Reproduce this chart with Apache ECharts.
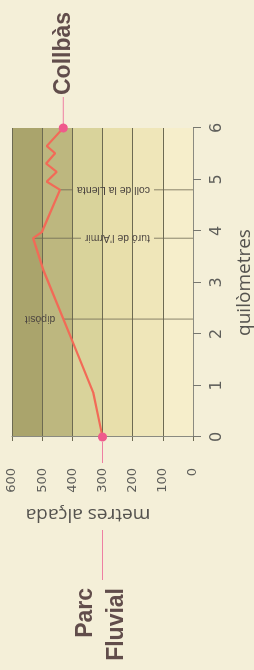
<!DOCTYPE html>
<html>
<head>
<meta charset="utf-8">
<script src="https://cdn.jsdelivr.net/npm/echarts@6/dist/echarts.min.js"></script>
<style>
  html, body { margin: 0; padding: 0; width: 254px; height: 670px; overflow: hidden; background: #f4efd8; }
  /* the chart is drawn upright (670 x 254) and turned a quarter left */
  #chart-container {
    position: absolute; left: 0; top: 0;
    width: 670px; height: 254px;
    transform-origin: 0 0;
    transform: translateY(670px) rotate(-90deg);
  }
</style>
</head>
<body>
<div id="chart-container"></div>
<script>
// elevation profile, km along the route / metres above sea level
var km = [0, 0.85, 1.82, 3.24, 3.86, 3.98, 4.80, 4.96, 5.15, 5.31, 5.51, 5.65, 6];
var altitude = [300, 330, 397, 496, 530, 501, 441, 485, 452, 487, 457, 485, 430];

// altitude bands behind the profile
var bandLow = [0, 100, 200, 300, 400, 500];
var bandHigh = [100, 200, 300, 400, 500, 600];
var bandColors = ['#f6eecb', '#efe6b9', '#e8dfab', '#d9d39b', '#bdb77f', '#aaa46c'];

// points of interest along the way
var markerKm = [2.29, 3.86, 4.80];
var markerTop = [430, 530, 441];
var markerNames = ['dipòsit', "turó de l'Armir", 'coll de la Llenta'];
var markerLabelAt = ['top', 'axis', 'axis'];

// start and end of the route
var endNames = ['Parc Fluvial', 'Collbàs'];

var dom = document.getElementById('chart-container');
var myChart = echarts.init(dom, null, { renderer: 'canvas' });

var markerFont = '10.5px "Liberation Sans", Arial, sans-serif';
var measureCtx = document.createElement('canvas').getContext('2d');
function textWidth(s, font) {
  measureCtx.font = font;
  return measureCtx.measureText(s).width;
}

function renderBand(params, api) {
  var p1 = api.coord([0, api.value(1)]);
  var p2 = api.coord([6, api.value(0)]);
  return {
    type: 'rect',
    shape: { x: p1[0], y: p1[1], width: p2[0] - p1[0], height: p2[1] - p1[1] },
    style: { fill: bandColors[params.dataIndex] }
  };
}

function renderMarker(params, api) {
  var i = params.dataIndex;
  var base = api.coord([api.value(0), 0]);
  var top = api.coord([api.value(0), api.value(1)]);
  var w = textWidth(markerNames[i], markerFont);
  var lineStyle = { stroke: '#6d6853', lineWidth: 0.8 };
  var children = [];
  var textY;
  if (markerLabelAt[i] === 'top') {
    children.push({ type: 'line', shape: { x1: base[0], y1: base[1], x2: top[0], y2: top[1] }, style: lineStyle });
    textY = top[1] - 8;
  } else {
    textY = base[1] - 43;
    children.push({ type: 'line', shape: { x1: base[0], y1: base[1], x2: base[0], y2: textY + 4 }, style: lineStyle });
    children.push({ type: 'line', shape: { x1: base[0], y1: textY - w - 4, x2: top[0], y2: top[1] }, style: lineStyle });
  }
  children.push({
    type: 'text',
    x: base[0], y: textY,
    rotation: Math.PI / 2,
    style: { text: markerNames[i], font: markerFont, fill: '#4e4742', align: 'left', verticalAlign: 'middle' }
  });
  return { type: 'group', children: children };
}

function renderEnd(params, api) {
  var i = params.dataIndex;
  var p = api.coord([api.value(0), api.value(1)]);
  var pink = { stroke: '#ee7fa2', lineWidth: 1 };
  var font = 'bold 23px "Liberation Sans", Arial, sans-serif';
  if (i === 0) {
    return {
      type: 'group',
      children: [
        { type: 'line', shape: { x1: p[0] - 5, y1: p[1], x2: p[0] - 26, y2: p[1] }, style: pink },
        { type: 'line', shape: { x1: p[0] - 93, y1: p[1], x2: p[0] - 143, y2: p[1] }, style: pink },
        { type: 'text', x: p[0] - 151, y: p[1] - 1,
          style: { text: endNames[0].replace(' ', '\n'), font: font, lineHeight: 31, fill: '#614d4b', align: 'right', verticalAlign: 'middle' } }
      ]
    };
  }
  return {
    type: 'group',
    children: [
      { type: 'line', shape: { x1: p[0] + 4, y1: p[1], x2: p[0] + 31, y2: p[1] }, style: pink },
      { type: 'text', x: p[0] + 33, y: p[1],
        style: { text: endNames[1], font: font, fill: '#614d4b', align: 'left', verticalAlign: 'middle' } }
    ]
  };
}

var axisGray = '#77776f';
var gridLine = '#6d6a52';

var option = {
  backgroundColor: '#f4efd8',
  animation: false,
  grid: { left: 233, right: 128, top: 12, bottom: 61, outerBoundsMode: 'none' },
  xAxis: [
    {
      type: 'value', min: 0, max: 6, interval: 1, position: 'bottom',
      axisLine: { show: true, lineStyle: { color: axisGray, width: 1 } },
      axisTick: { show: true, length: 8, lineStyle: { color: axisGray } },
      axisLabel: { margin: 16, fontSize: 16, color: '#5e5e5a', fontFamily: 'DejaVu Sans' },
      splitLine: { show: false },
      name: 'quilòmetres', nameLocation: 'middle', nameGap: 42, nameMoveOverlap: false,
      nameTextStyle: { fontSize: 19, color: '#55534f', fontFamily: 'Open Sans' }
    },
    {
      type: 'value', min: 0, max: 6, position: 'bottom', offset: 37,
      axisLine: { show: true, lineStyle: { color: '#8a8a80', width: 1 } },
      axisTick: { show: false }, axisLabel: { show: false }, splitLine: { show: false }
    }
  ],
  yAxis: [
    {
      type: 'value', min: 0, max: 600, interval: 100, position: 'left',
      axisLine: { show: false },
      axisTick: { show: true, length: 4, lineStyle: { color: gridLine } },
      axisLabel: { margin: 31, fontSize: 13, color: '#5e5e5a', fontFamily: 'DejaVu Sans' },
      splitLine: { show: true, lineStyle: { color: gridLine, width: 1 } },
      name: 'metres alçada', nameLocation: 'middle', nameGap: 68, nameRotate: 90, nameMoveOverlap: false,
      nameTextStyle: { fontSize: 19, color: '#55534f', fontFamily: 'Open Sans', padding: [0, 0, 0, 29] }
    },
    {
      type: 'value', min: 0, max: 600, position: 'left', offset: 65,
      axisLine: { show: true, lineStyle: { color: '#8a8a80', width: 1 } },
      axisTick: { show: false }, axisLabel: { show: false }, splitLine: { show: false }
    }
  ],
  series: [
    {
      type: 'custom', name: 'bands', z: -1, silent: true, clip: false,
      renderItem: renderBand,
      data: bandLow.map(function (lo, i) { return [lo, bandHigh[i]]; })
    },
    {
      type: 'custom', name: 'markers', z: 2, silent: true, clip: false,
      renderItem: renderMarker,
      data: markerKm.map(function (k, i) { return [k, markerTop[i]]; })
    },
    {
      type: 'line', name: 'perfil', z: 3,
      data: km.map(function (k, i) { return [k, altitude[i]]; }),
      showSymbol: true, symbol: 'circle',
      symbolSize: function (value, params) {
        return (params.dataIndex === 0 || params.dataIndex === km.length - 1) ? 9 : 0;
      },
      itemStyle: { color: '#ef5a8c', borderWidth: 0 },
      lineStyle: { color: '#f26a57', width: 2.2 }
    },
    {
      type: 'custom', name: 'ends', z: 3, silent: true, clip: false,
      renderItem: renderEnd,
      data: [[km[0], altitude[0]], [km[km.length - 1], altitude[altitude.length - 1]]]
    }
  ]
};

myChart.setOption(option);
window.addEventListener('resize', myChart.resize);
</script>
</body>
</html>
